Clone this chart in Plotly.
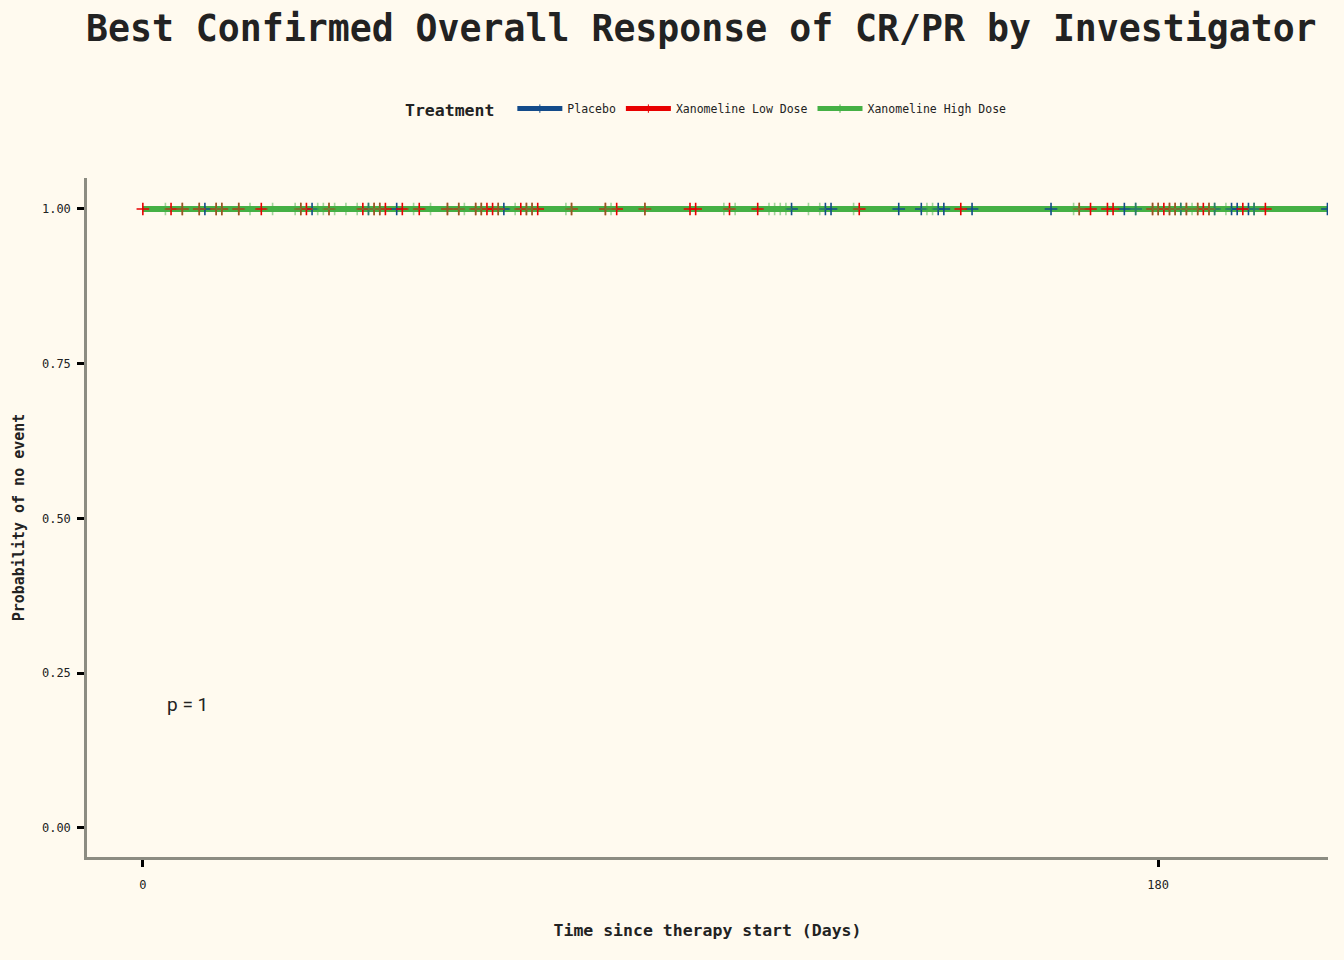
import plotly.graph_objects as go

# ---- data ----
arms = ["Placebo", "Xanomeline Low Dose", "Xanomeline High Dose"]
colors = ["#134b8a", "#e80000", "#45b045"]

# censoring times (days); survival stays at 1.0
placebo_censor = [11, 30, 40, 45, 64, 115, 121, 122, 134, 138, 141, 142, 147, 161, 174,
                  176, 184, 190, 193, 194, 196, 197, 210]
low_censor = [0, 5, 7, 10, 13, 14, 17, 21, 28, 29, 33, 39, 41, 42, 43, 46, 49, 54, 56, 59,
              60, 61, 62, 63, 67, 68, 69, 70, 76, 82, 84, 89, 97, 98, 104, 109, 127, 145,
              166, 168, 171, 172, 179, 180, 181, 182, 183, 185, 187, 188, 189, 195, 199]
high_censor = [4, 7, 10, 13, 14, 17, 19, 23, 27, 28, 31, 32, 33, 34, 36, 38, 40, 41, 42,
               48, 51, 54, 56, 57, 59, 60, 63, 66, 68, 69, 75, 76, 82, 83, 89, 103, 105,
               111, 112, 113, 114, 118, 120, 126, 139, 140, 165, 166, 176, 179, 180, 182,
               183, 184, 185, 186, 187, 189, 190, 192, 197, 214]
censors = [placebo_censor, low_censor, high_censor]
marker_opacity = [1.0, 1.0, 0.5]

y_ticks = [0.0, 0.25, 0.5, 0.75, 1.0]
x_ticks = [0, 180]
p_text = "p = 1"

FONT = "DejaVu Sans Mono, Liberation Mono, monospace"
BG = "#fffaef"

fig = go.Figure()

# survival step lines
for name, col, cen in zip(arms, colors, censors):
    xs = [0] + sorted(cen)
    ys = [1.0] * len(xs)
    fig.add_trace(go.Scatter(x=xs, y=ys, mode="lines", line=dict(color=col, width=6, shape="hv"),
                             showlegend=False, hoverinfo="skip"))

# censor marks
for name, col, cen, op in zip(arms, colors, censors, marker_opacity):
    fig.add_trace(go.Scatter(x=cen, y=[1.0] * len(cen), mode="markers",
                             marker=dict(symbol="cross-thin", size=9, opacity=op,
                                         line=dict(color=col, width=1.6)),
                             showlegend=False))

# legend entries
for name, col in zip(arms, colors):
    fig.add_trace(go.Scatter(x=[None], y=[None], mode="lines+markers", name=name,
                             line=dict(color=col, width=5),
                             marker=dict(symbol="line-ns", size=6, line=dict(color=col, width=1))))

fig.add_annotation(x=4, y=0.2, text=p_text, showarrow=False, xanchor="left", yanchor="middle",
                   font=dict(family="Roboto, DejaVu Sans", size=19, color="#222222"))

fig.update_layout(
    width=1344, height=960,
    paper_bgcolor=BG, plot_bgcolor=BG,
    margin=dict(l=87, r=16, t=178, b=103),
    font=dict(family=FONT, color="#222222"),
    title=dict(text="<b>Best Confirmed Overall Response of CR/PR by Investigator</b>",
               x=0.495, xref="paper", y=0.971, yanchor="middle",
               font=dict(size=36.5, family=FONT, color="#222222")),
    legend=dict(orientation="h", x=0.5, xanchor="center", xref="paper", y=1.1, yanchor="middle",
                yref="paper", itemwidth=45,
                title=dict(text="<b>Treatment</b> ", font=dict(size=16.5)),
                font=dict(size=11.5), bgcolor="rgba(0,0,0,0)"),
    xaxis=dict(range=[-9.9, 210.1], tickvals=x_ticks, ticks="outside", ticklen=7, tickwidth=2.5,
               tickcolor="black", showgrid=False, zeroline=False, showline=True,
               linecolor="#8c8c82", linewidth=2.5, tickfont=dict(size=12),
               ticklabelstandoff=8,
               title=dict(text="<b>Time since therapy start (Days)</b>", font=dict(size=16.5), standoff=34)),
    yaxis=dict(range=[-0.0469, 1.05], tickvals=y_ticks, tickformat=".2f", ticks="outside",
               ticklen=7, tickwidth=2.5, tickcolor="black", showgrid=False, zeroline=False,
               showline=True, linecolor="#8c8c82", linewidth=2.5, tickfont=dict(size=12),
               ticklabelstandoff=4,
               title=dict(text="<b>Probability of no event</b>", font=dict(size=15), standoff=14)),
)

fig.write_html("out.html", config={"displayModeBar": False},
               post_script="document.body.style.margin='0';document.body.style.background='%s';" % BG)
